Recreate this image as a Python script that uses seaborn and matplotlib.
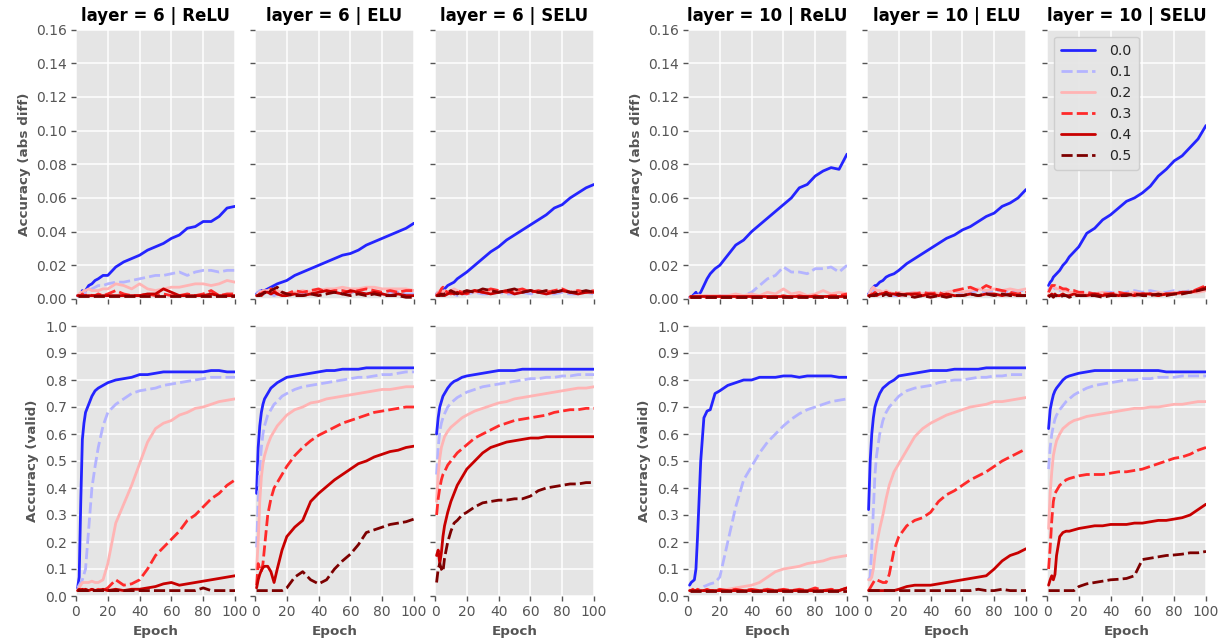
import matplotlib
matplotlib.use("Agg")
import matplotlib.pyplot as plt
import seaborn as sns
import pandas as pd

# ---------------- data ----------------
epochs = [1, 2, 3, 4, 5, 6, 8, 10, 12, 14, 17, 20, 25, 30, 35, 40, 45, 50, 55, 60, 65, 70, 75, 80, 85, 90, 95, 100]
dropouts = ["0.0", "0.1", "0.2", "0.3", "0.4", "0.5"]
layers = [6, 10]
activations = ["ReLU", "ELU", "SELU"]
line_colors = ["#2424ff", "#b4b4ff", "#ffb4b4", "#ff2a2a", "#c80000", "#7d0000"]

# Accuracy (abs diff): one list per dropout rate
diff_l6_relu = [
    [0.002,0.002,0.003,0.005,0.004,0.005,0.008,0.009,0.011,0.012,0.014,0.014,0.019,0.022,0.024,0.026,0.029,0.031,0.033,0.036,0.038,0.042,0.043,0.046,0.046,0.049,0.054,0.055],
    [0.001,0.002,0.002,0.003,0.003,0.004,0.005,0.006,0.007,0.008,0.008,0.009,0.010,0.010,0.011,0.012,0.013,0.014,0.014,0.015,0.016,0.014,0.016,0.017,0.017,0.016,0.017,0.017],
    [0.002,0.003,0.004,0.004,0.005,0.005,0.006,0.005,0.005,0.005,0.006,0.006,0.009,0.008,0.006,0.009,0.006,0.005,0.006,0.007,0.007,0.008,0.009,0.009,0.008,0.009,0.011,0.010],
    [0.002,0.002,0.002,0.003,0.002,0.002,0.003,0.002,0.002,0.003,0.002,0.003,0.005,0.003,0.002,0.002,0.003,0.002,0.003,0.002,0.002,0.003,0.002,0.003,0.005,0.002,0.003,0.003],
    [0.002,0.002,0.002,0.002,0.002,0.002,0.002,0.002,0.002,0.002,0.002,0.002,0.002,0.002,0.002,0.002,0.003,0.003,0.006,0.004,0.002,0.002,0.002,0.002,0.003,0.002,0.002,0.002],
    [0.002,0.002,0.002,0.002,0.002,0.002,0.002,0.002,0.002,0.002,0.002,0.002,0.002,0.002,0.002,0.002,0.002,0.002,0.002,0.002,0.002,0.002,0.002,0.002,0.002,0.002,0.002,0.002],
]
diff_l6_elu = [
    [0.003,0.004,0.004,0.005,0.005,0.005,0.006,0.007,0.008,0.009,0.010,0.011,0.014,0.016,0.018,0.020,0.022,0.024,0.026,0.027,0.029,0.032,0.034,0.036,0.038,0.040,0.042,0.045],
    [0.003,0.004,0.005,0.004,0.004,0.003,0.003,0.003,0.002,0.003,0.004,0.003,0.004,0.003,0.004,0.004,0.005,0.004,0.003,0.004,0.004,0.003,0.004,0.003,0.004,0.004,0.003,0.003],
    [0.002,0.003,0.004,0.004,0.005,0.005,0.005,0.006,0.004,0.005,0.004,0.003,0.004,0.005,0.004,0.005,0.006,0.006,0.007,0.006,0.006,0.007,0.007,0.006,0.006,0.006,0.006,0.005],
    [0.002,0.002,0.003,0.003,0.004,0.004,0.005,0.006,0.005,0.003,0.004,0.003,0.005,0.004,0.005,0.006,0.004,0.005,0.005,0.004,0.005,0.006,0.005,0.004,0.005,0.004,0.005,0.005],
    [0.002,0.002,0.003,0.002,0.003,0.004,0.004,0.003,0.004,0.003,0.002,0.002,0.003,0.002,0.003,0.004,0.005,0.004,0.003,0.005,0.004,0.003,0.004,0.003,0.002,0.003,0.002,0.002],
    [0.002,0.002,0.002,0.003,0.003,0.004,0.003,0.005,0.006,0.007,0.004,0.003,0.002,0.002,0.003,0.002,0.003,0.004,0.003,0.002,0.003,0.002,0.003,0.002,0.002,0.002,0.001,0.001],
]
diff_l6_selu = [
    [0.003,0.004,0.004,0.005,0.006,0.006,0.008,0.009,0.010,0.012,0.014,0.016,0.020,0.024,0.028,0.031,0.035,0.038,0.041,0.044,0.047,0.050,0.054,0.056,0.060,0.063,0.066,0.068],
    [0.002,0.003,0.004,0.005,0.004,0.003,0.003,0.004,0.003,0.002,0.003,0.003,0.004,0.003,0.003,0.004,0.003,0.003,0.004,0.003,0.004,0.003,0.003,0.004,0.003,0.003,0.004,0.003],
    [0.003,0.004,0.005,0.005,0.004,0.005,0.004,0.005,0.006,0.005,0.004,0.005,0.004,0.005,0.005,0.004,0.005,0.004,0.005,0.005,0.004,0.005,0.004,0.005,0.004,0.005,0.004,0.004],
    [0.002,0.003,0.004,0.006,0.007,0.005,0.004,0.003,0.004,0.005,0.004,0.003,0.005,0.004,0.006,0.005,0.004,0.005,0.006,0.004,0.005,0.004,0.005,0.006,0.004,0.005,0.004,0.005],
    [0.002,0.002,0.003,0.002,0.003,0.002,0.003,0.004,0.003,0.004,0.003,0.004,0.005,0.004,0.003,0.004,0.005,0.003,0.004,0.005,0.004,0.003,0.004,0.005,0.004,0.003,0.004,0.004],
    [0.002,0.002,0.002,0.003,0.002,0.003,0.004,0.005,0.004,0.003,0.004,0.005,0.004,0.006,0.005,0.004,0.005,0.006,0.004,0.005,0.004,0.005,0.004,0.005,0.004,0.004,0.005,0.004],
]
diff_l10_relu = [
    [0.001,0.001,0.002,0.003,0.004,0.002,0.004,0.008,0.012,0.015,0.018,0.020,0.026,0.032,0.035,0.040,0.044,0.048,0.052,0.056,0.060,0.066,0.068,0.073,0.076,0.078,0.077,0.086],
    [0.001,0.001,0.001,0.002,0.002,0.002,0.003,0.002,0.002,0.001,0.002,0.002,0.002,0.002,0.002,0.004,0.008,0.012,0.014,0.019,0.016,0.016,0.015,0.018,0.018,0.019,0.016,0.020],
    [0.001,0.001,0.001,0.001,0.002,0.002,0.002,0.002,0.002,0.002,0.002,0.002,0.002,0.003,0.002,0.003,0.002,0.004,0.003,0.006,0.003,0.004,0.002,0.003,0.005,0.003,0.004,0.003],
    [0.001,0.001,0.001,0.001,0.001,0.001,0.001,0.001,0.001,0.001,0.001,0.001,0.001,0.001,0.001,0.001,0.001,0.001,0.001,0.002,0.001,0.002,0.001,0.002,0.001,0.002,0.002,0.003],
    [0.002,0.002,0.002,0.002,0.002,0.002,0.002,0.002,0.002,0.002,0.002,0.002,0.002,0.002,0.002,0.002,0.002,0.002,0.002,0.002,0.002,0.002,0.002,0.002,0.002,0.002,0.002,0.002],
    [0.001,0.001,0.001,0.001,0.001,0.001,0.001,0.001,0.001,0.001,0.001,0.001,0.001,0.001,0.001,0.001,0.001,0.001,0.001,0.001,0.001,0.001,0.001,0.001,0.001,0.001,0.001,0.001],
]
diff_l10_elu = [
    [0.003,0.004,0.006,0.007,0.008,0.008,0.010,0.011,0.013,0.014,0.015,0.017,0.021,0.024,0.027,0.030,0.033,0.036,0.038,0.041,0.043,0.046,0.049,0.051,0.055,0.057,0.060,0.065],
    [0.003,0.004,0.006,0.005,0.004,0.003,0.003,0.004,0.003,0.002,0.002,0.002,0.003,0.004,0.003,0.004,0.003,0.004,0.005,0.003,0.004,0.005,0.004,0.005,0.005,0.004,0.005,0.005],
    [0.002,0.004,0.006,0.007,0.006,0.005,0.005,0.004,0.005,0.004,0.003,0.004,0.003,0.004,0.003,0.004,0.003,0.004,0.005,0.004,0.005,0.006,0.005,0.006,0.005,0.006,0.005,0.006],
    [0.002,0.002,0.003,0.003,0.004,0.003,0.004,0.003,0.004,0.003,0.004,0.003,0.002,0.003,0.004,0.003,0.004,0.002,0.005,0.006,0.007,0.005,0.008,0.006,0.005,0.004,0.003,0.004],
    [0.002,0.002,0.002,0.003,0.003,0.002,0.003,0.003,0.004,0.003,0.003,0.002,0.003,0.003,0.002,0.003,0.002,0.003,0.002,0.002,0.003,0.002,0.003,0.003,0.002,0.003,0.002,0.002],
    [0.001,0.002,0.002,0.002,0.002,0.003,0.002,0.002,0.003,0.002,0.002,0.003,0.002,0.001,0.002,0.001,0.002,0.001,0.002,0.002,0.003,0.002,0.003,0.002,0.003,0.002,0.002,0.002],
]
diff_l10_selu = [
    [0.008,0.010,0.011,0.013,0.014,0.015,0.017,0.020,0.022,0.025,0.028,0.031,0.039,0.042,0.047,0.050,0.054,0.058,0.060,0.063,0.067,0.073,0.077,0.082,0.085,0.090,0.095,0.103],
    [0.005,0.007,0.008,0.007,0.006,0.006,0.005,0.006,0.005,0.004,0.004,0.004,0.004,0.003,0.004,0.004,0.003,0.004,0.005,0.004,0.005,0.004,0.004,0.005,0.004,0.005,0.005,0.005],
    [0.004,0.006,0.007,0.008,0.007,0.006,0.006,0.005,0.005,0.004,0.004,0.003,0.003,0.003,0.004,0.003,0.003,0.003,0.004,0.003,0.003,0.004,0.003,0.004,0.003,0.004,0.004,0.005],
    [0.004,0.006,0.008,0.008,0.008,0.007,0.007,0.006,0.006,0.005,0.005,0.004,0.004,0.003,0.003,0.003,0.004,0.003,0.003,0.003,0.003,0.002,0.003,0.003,0.004,0.004,0.006,0.008],
    [0.002,0.002,0.003,0.002,0.003,0.002,0.002,0.003,0.002,0.002,0.003,0.002,0.002,0.003,0.002,0.003,0.002,0.003,0.002,0.003,0.003,0.002,0.003,0.003,0.004,0.004,0.005,0.007],
    [0.001,0.002,0.002,0.001,0.002,0.002,0.001,0.002,0.002,0.001,0.002,0.002,0.002,0.002,0.001,0.002,0.002,0.002,0.003,0.002,0.002,0.003,0.002,0.003,0.003,0.004,0.005,0.006],
]

# Accuracy (valid): one list per dropout rate
valid_l6_relu = [
    [0.03,0.07,0.35,0.58,0.64,0.68,0.71,0.74,0.76,0.77,0.78,0.79,0.80,0.805,0.81,0.82,0.82,0.825,0.83,0.83,0.83,0.83,0.83,0.83,0.835,0.835,0.83,0.83],
    [0.03,0.04,0.05,0.06,0.08,0.10,0.25,0.40,0.48,0.55,0.63,0.68,0.71,0.73,0.75,0.76,0.765,0.77,0.78,0.785,0.79,0.795,0.80,0.805,0.81,0.81,0.81,0.81],
    [0.02,0.03,0.04,0.05,0.05,0.05,0.05,0.055,0.05,0.05,0.06,0.12,0.27,0.34,0.41,0.49,0.57,0.62,0.64,0.65,0.67,0.68,0.695,0.70,0.71,0.72,0.725,0.73],
    [0.02,0.02,0.025,0.02,0.025,0.02,0.02,0.025,0.02,0.025,0.02,0.03,0.06,0.04,0.045,0.06,0.10,0.15,0.18,0.21,0.24,0.28,0.30,0.33,0.36,0.38,0.41,0.43],
    [0.02,0.025,0.02,0.025,0.02,0.025,0.02,0.025,0.02,0.02,0.025,0.02,0.025,0.02,0.025,0.025,0.03,0.035,0.045,0.05,0.04,0.045,0.05,0.055,0.06,0.065,0.07,0.075],
    [0.02,0.02,0.02,0.02,0.02,0.02,0.02,0.02,0.02,0.02,0.02,0.02,0.02,0.02,0.02,0.02,0.02,0.02,0.02,0.02,0.02,0.02,0.02,0.03,0.02,0.02,0.02,0.02],
]
valid_l6_elu = [
    [0.38,0.55,0.63,0.68,0.71,0.73,0.75,0.77,0.78,0.79,0.80,0.81,0.815,0.82,0.825,0.83,0.835,0.835,0.84,0.84,0.84,0.845,0.845,0.845,0.845,0.845,0.845,0.845],
    [0.18,0.35,0.47,0.55,0.60,0.63,0.67,0.69,0.71,0.72,0.74,0.75,0.765,0.775,0.78,0.785,0.79,0.795,0.80,0.805,0.81,0.81,0.815,0.82,0.82,0.825,0.83,0.83],
    [0.10,0.20,0.35,0.44,0.49,0.52,0.56,0.59,0.61,0.63,0.65,0.67,0.69,0.70,0.715,0.72,0.73,0.735,0.74,0.745,0.75,0.755,0.76,0.765,0.765,0.77,0.775,0.775],
    [0.04,0.12,0.10,0.09,0.12,0.18,0.30,0.36,0.40,0.42,0.45,0.48,0.52,0.55,0.575,0.595,0.61,0.625,0.64,0.65,0.66,0.67,0.68,0.685,0.69,0.695,0.70,0.70],
    [0.03,0.06,0.08,0.095,0.105,0.11,0.11,0.09,0.05,0.10,0.17,0.22,0.255,0.28,0.35,0.38,0.405,0.43,0.45,0.47,0.49,0.50,0.515,0.525,0.535,0.54,0.55,0.555],
    [0.02,0.02,0.02,0.02,0.02,0.02,0.02,0.02,0.02,0.02,0.02,0.03,0.07,0.09,0.06,0.045,0.06,0.10,0.13,0.155,0.19,0.235,0.245,0.255,0.265,0.27,0.275,0.285],
]
valid_l6_selu = [
    [0.60,0.66,0.70,0.72,0.74,0.75,0.77,0.785,0.795,0.80,0.81,0.815,0.82,0.825,0.83,0.835,0.835,0.835,0.84,0.84,0.84,0.84,0.84,0.84,0.84,0.84,0.84,0.84],
    [0.45,0.55,0.61,0.64,0.66,0.675,0.70,0.715,0.725,0.735,0.745,0.755,0.765,0.775,0.78,0.785,0.79,0.795,0.80,0.805,0.805,0.81,0.81,0.815,0.815,0.82,0.82,0.82],
    [0.35,0.45,0.51,0.55,0.57,0.59,0.61,0.625,0.635,0.645,0.66,0.67,0.685,0.695,0.705,0.715,0.72,0.73,0.735,0.74,0.745,0.75,0.755,0.76,0.765,0.77,0.77,0.775],
    [0.30,0.36,0.40,0.43,0.45,0.46,0.485,0.50,0.515,0.53,0.545,0.56,0.585,0.60,0.615,0.63,0.64,0.65,0.655,0.66,0.665,0.67,0.68,0.685,0.69,0.69,0.695,0.695],
    [0.15,0.17,0.12,0.16,0.22,0.26,0.31,0.35,0.38,0.41,0.44,0.47,0.50,0.53,0.55,0.56,0.57,0.575,0.58,0.585,0.585,0.59,0.59,0.59,0.59,0.59,0.59,0.59],
    [0.05,0.10,0.12,0.10,0.09,0.14,0.20,0.24,0.27,0.28,0.30,0.31,0.33,0.345,0.35,0.355,0.355,0.36,0.36,0.37,0.39,0.40,0.405,0.41,0.415,0.415,0.42,0.42],
]
valid_l10_relu = [
    [0.04,0.05,0.055,0.06,0.10,0.22,0.50,0.66,0.685,0.69,0.75,0.76,0.78,0.79,0.80,0.80,0.81,0.81,0.81,0.815,0.815,0.81,0.815,0.815,0.815,0.815,0.81,0.81],
    [0.02,0.02,0.02,0.02,0.02,0.02,0.025,0.035,0.04,0.045,0.05,0.07,0.20,0.33,0.43,0.48,0.53,0.57,0.60,0.63,0.655,0.675,0.69,0.70,0.71,0.72,0.725,0.73],
    [0.02,0.02,0.02,0.02,0.02,0.02,0.02,0.02,0.02,0.02,0.02,0.02,0.025,0.03,0.035,0.04,0.05,0.07,0.09,0.10,0.105,0.11,0.12,0.125,0.13,0.14,0.145,0.15],
    [0.02,0.02,0.025,0.02,0.02,0.025,0.02,0.02,0.025,0.02,0.02,0.025,0.02,0.025,0.02,0.025,0.02,0.025,0.02,0.025,0.02,0.025,0.02,0.03,0.02,0.025,0.02,0.03],
    [0.02,0.02,0.02,0.02,0.02,0.02,0.02,0.02,0.02,0.02,0.02,0.02,0.02,0.02,0.02,0.02,0.02,0.02,0.02,0.02,0.02,0.02,0.02,0.02,0.02,0.02,0.02,0.03],
    [0.02,0.02,0.02,0.02,0.02,0.02,0.02,0.02,0.02,0.02,0.02,0.02,0.02,0.02,0.02,0.02,0.02,0.02,0.02,0.02,0.02,0.02,0.02,0.02,0.02,0.02,0.02,0.02],
]
valid_l10_elu = [
    [0.32,0.50,0.60,0.66,0.70,0.72,0.75,0.77,0.78,0.79,0.80,0.815,0.82,0.825,0.83,0.835,0.835,0.835,0.84,0.84,0.84,0.84,0.845,0.845,0.845,0.845,0.845,0.845],
    [0.06,0.07,0.18,0.32,0.45,0.52,0.60,0.65,0.68,0.70,0.72,0.74,0.76,0.77,0.775,0.78,0.79,0.795,0.80,0.80,0.805,0.81,0.81,0.815,0.815,0.82,0.82,0.82],
    [0.06,0.06,0.07,0.10,0.15,0.19,0.25,0.30,0.36,0.41,0.46,0.49,0.54,0.59,0.62,0.64,0.655,0.67,0.68,0.69,0.70,0.705,0.71,0.72,0.72,0.725,0.73,0.735],
    [0.02,0.03,0.04,0.05,0.06,0.06,0.055,0.05,0.05,0.08,0.17,0.22,0.26,0.28,0.29,0.31,0.35,0.375,0.39,0.41,0.43,0.445,0.46,0.48,0.50,0.515,0.53,0.545],
    [0.02,0.02,0.02,0.02,0.02,0.02,0.02,0.02,0.02,0.02,0.02,0.025,0.035,0.04,0.04,0.04,0.045,0.05,0.055,0.06,0.065,0.07,0.075,0.10,0.13,0.15,0.16,0.175],
    [0.02,0.02,0.02,0.02,0.02,0.02,0.02,0.02,0.02,0.02,0.02,0.02,0.02,0.02,0.02,0.02,0.02,0.02,0.02,0.02,0.02,0.025,0.02,0.02,0.025,0.02,0.02,0.02],
]
valid_l10_selu = [
    [0.62,0.69,0.72,0.745,0.76,0.77,0.785,0.80,0.81,0.815,0.82,0.825,0.83,0.835,0.835,0.835,0.835,0.835,0.835,0.835,0.835,0.835,0.83,0.83,0.83,0.83,0.83,0.83],
    [0.47,0.55,0.60,0.63,0.655,0.67,0.69,0.705,0.72,0.73,0.745,0.755,0.77,0.78,0.785,0.79,0.795,0.80,0.80,0.805,0.805,0.81,0.81,0.81,0.815,0.815,0.815,0.815],
    [0.25,0.38,0.46,0.52,0.55,0.575,0.60,0.62,0.63,0.64,0.65,0.655,0.665,0.67,0.675,0.68,0.685,0.69,0.695,0.695,0.70,0.70,0.705,0.71,0.71,0.715,0.72,0.72],
    [0.10,0.18,0.28,0.35,0.38,0.39,0.41,0.42,0.43,0.435,0.44,0.445,0.45,0.45,0.45,0.455,0.46,0.46,0.465,0.47,0.48,0.49,0.50,0.51,0.515,0.525,0.54,0.55],
    [0.04,0.06,0.075,0.06,0.08,0.15,0.22,0.235,0.24,0.24,0.245,0.25,0.255,0.26,0.26,0.265,0.265,0.265,0.27,0.27,0.275,0.28,0.28,0.285,0.29,0.30,0.32,0.34],
    [0.02,0.02,0.02,0.02,0.02,0.02,0.02,0.02,0.02,0.02,0.02,0.035,0.045,0.05,0.055,0.06,0.062,0.065,0.075,0.135,0.14,0.145,0.15,0.152,0.155,0.16,0.16,0.165],
]

diff_panels = [diff_l6_relu, diff_l6_elu, diff_l6_selu, diff_l10_relu, diff_l10_elu, diff_l10_selu]
valid_panels = [valid_l6_relu, valid_l6_elu, valid_l6_selu, valid_l10_relu, valid_l10_elu, valid_l10_selu]
diff_yticks = [0.00, 0.02, 0.04, 0.06, 0.08, 0.10, 0.12, 0.14, 0.16]
valid_yticks = [0.0, 0.1, 0.2, 0.3, 0.4, 0.5, 0.6, 0.7, 0.8, 0.9, 1.0]
xticks = [0, 20, 40, 60, 80, 100]


def to_frame(series_list):
    rows = []
    for d, ys in zip(dropouts, series_list):
        for e, y in zip(epochs, ys):
            rows.append({"Epoch": e, "value": y, "dropout": d})
    return pd.DataFrame(rows)


# ---------------- style ----------------
sns.set_theme(style="darkgrid", rc={
    "axes.facecolor": "#E5E5E5",
    "grid.color": "white",
    "grid.linewidth": 1.1,
    "axes.edgecolor": "#E5E5E5",
})
plt.rcParams["font.family"] = ["DejaVu Sans"]

palette = dict(zip(dropouts, line_colors))
dash_map = {"0.0": "", "0.1": (4, 1.5), "0.2": "", "0.3": (4, 1.5), "0.4": "", "0.5": (4, 1.5)}

W, H = 1228, 644
fig = plt.figure(figsize=(W / 100, H / 100), dpi=100)
lefts = [76, 255, 435, 688, 867, 1047]
pw = 159
rows_px = [(29.5, 299.0), (326.0, 596.0)]  # (top, bottom) pixel for each row

for r, (top, bot) in enumerate(rows_px):
    for c, lx in enumerate(lefts):
        ax = fig.add_axes([lx / W, 1 - bot / H, pw / W, (bot - top) / H])
        data = (diff_panels if r == 0 else valid_panels)[c]
        df = to_frame(data)
        show_legend = (r == 0 and c == 5)
        sns.lineplot(data=df, x="Epoch", y="value", hue="dropout", style="dropout",
                     hue_order=dropouts, style_order=dropouts, palette=palette,
                     dashes=dash_map, linewidth=2, ax=ax, legend=show_legend)
        ax.set_xlim(0, 100)
        ax.set_xticks(xticks)
        if r == 0:
            ax.set_ylim(0, 0.16)
            ax.set_yticks(diff_yticks)
            ax.set_yticklabels([f"{v:.2f}" for v in diff_yticks])
            ax.set_xticklabels([])
            ax.set_xlabel("")
            layer = layers[c // 3]
            act = activations[c % 3]
            ax.set_title(f"layer = {layer} | {act}", fontsize=12, fontweight="bold",
                         color="black", pad=6)
        else:
            ax.set_ylim(0, 1.0)
            ax.set_yticks(valid_yticks)
            ax.set_yticklabels([f"{v:.1f}" for v in valid_yticks])
            ax.set_xticklabels([str(t) for t in xticks])
            ax.set_xlabel("Epoch", fontsize=9.7, fontweight="bold", color="#555555")
        if c % 3 == 0:
            ax.set_ylabel("Accuracy (abs diff)" if r == 0 else "Accuracy (valid)",
                          fontsize=9.7, fontweight="bold", color="#555555")
        else:
            ax.set_ylabel("")
            ax.tick_params(axis="y", labelleft=False)
        ax.tick_params(axis="both", which="major", bottom=True, left=True,
                       direction="out", length=3.5, width=1, color="#555555",
                       labelcolor="#555555", labelsize=10, pad=3)
        for s in ax.spines.values():
            s.set_visible(False)
        if show_legend:
            sns.move_legend(ax, "upper left", title=None, frameon=True, fontsize=10.2,
                            handlelength=2.4, labelspacing=0.5, borderpad=0.5,
                            handletextpad=1.0,
                            facecolor="#E5E5E5", edgecolor="#CCCCCC", framealpha=0.9)

fig.savefig("out.png", dpi=100)
